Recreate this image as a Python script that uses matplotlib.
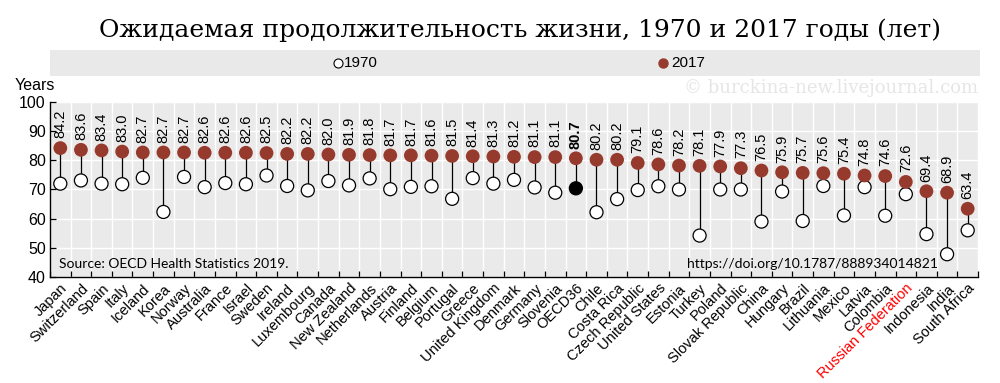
import matplotlib
matplotlib.use("Agg")
import matplotlib.pyplot as plt
from matplotlib.patches import Rectangle
import numpy as np

countries = [
    "Japan", "Switzerland", "Spain", "Italy", "Iceland", "Korea", "Norway",
    "Australia", "France", "Israel", "Sweden", "Ireland", "Luxembourg",
    "Canada", "New Zealand", "Netherlands", "Austria", "Finland", "Belgium",
    "Portugal", "Greece", "United Kingdom", "Denmark", "Germany", "Slovenia",
    "OECD36", "Chile", "Costa Rica", "Czech Republic", "United States",
    "Estonia", "Turkey", "Poland", "Slovak Republic", "China", "Hungary",
    "Brazil", "Lithuania", "Mexico", "Latvia", "Colombia",
    "Russian Federation", "Indonesia", "India", "South Africa",
]
life_2017 = [
    84.2, 83.6, 83.4, 83.0, 82.7, 82.7, 82.7, 82.6, 82.6, 82.6, 82.5, 82.2,
    82.2, 82.0, 81.9, 81.8, 81.7, 81.7, 81.6, 81.5, 81.4, 81.3, 81.2, 81.1,
    81.1, 80.7, 80.2, 80.2, 79.1, 78.6, 78.2, 78.1, 77.9, 77.3, 76.5, 75.9,
    75.7, 75.6, 75.4, 74.8, 74.6, 72.6, 69.4, 68.9, 63.4,
]
life_1970 = [
    72.0, 73.1, 72.0, 71.8, 74.0, 62.3, 74.3, 70.8, 72.2, 71.8, 74.8, 71.2,
    69.7, 72.9, 71.4, 73.8, 70.1, 70.9, 71.1, 66.8, 73.9, 72.0, 73.3, 70.7,
    68.9, 70.4, 62.2, 66.7, 69.8, 71.1, 70.0, 54.2, 70.0, 70.0, 59.0, 69.3,
    59.2, 71.2, 61.1, 70.8, 61.0, 68.4, 54.7, 47.8, 56.0,
]

red = "#963A2D"
sans = ["Liberation Sans Narrow", "Liberation Sans", "DejaVu Sans"]
plt.rcParams["font.family"] = sans

fig = plt.figure(figsize=(10, 3.83), dpi=100)
ax = fig.add_axes([0.05, 0.2768, 0.928, 0.4569])
ax.set_facecolor("#EAEAEA")

x = np.arange(len(countries))
for xi, a, b in zip(x, life_1970, life_2017):
    ax.plot([xi, xi], [a, b], color="black", lw=0.9, zorder=2)

oecd = countries.index("OECD36")
face70 = ["black" if i == oecd else "white" for i in x]
ax.scatter(x, life_1970, s=88, facecolors=face70, edgecolors="black",
           linewidths=0.9, zorder=3)
ax.scatter(x, life_2017, s=98, color=red, edgecolors="none", zorder=4)

for xi, v in zip(x, life_2017):
    ax.annotate(f"{v:.1f}", (xi, v), xytext=(0, 7), textcoords="offset points",
                rotation=90, ha="center", va="bottom", fontsize=10.5,
                fontweight="bold" if xi == oecd else "normal", zorder=5)

ax.set_xlim(-0.5, len(countries) - 0.5)
ax.set_ylim(40, 100)
ax.set_yticks(range(40, 101, 10))
ax.set_xticks(x)
ax.set_xticklabels(countries, rotation=45, ha="right", rotation_mode="anchor",
                   fontsize=10.5)
ax.get_xticklabels()[countries.index("Russian Federation")].set_color("red")
ax.set_xticks(np.arange(-0.5, len(countries), 1), minor=True)
ax.tick_params(axis="x", which="major", length=0, pad=3)
ax.tick_params(axis="x", which="minor", direction="in", length=4, width=0.9)
ax.tick_params(axis="y", direction="in", length=4, width=0.9, labelsize=11.5, pad=3)
ax.grid(axis="y", color="white", lw=1)
ax.grid(axis="x", which="minor", color="white", lw=1)
ax.set_axisbelow(True)
for s in ["top", "right"]:
    ax.spines[s].set_visible(False)
ax.spines["left"].set_linewidth(1)
ax.spines["bottom"].set_linewidth(1)

ax.text(0.01, 0.075, "Source: OECD Health Statistics 2019.", transform=ax.transAxes,
        fontsize=10, family="Lato", va="center", ha="left")
ax.text(0.686, 0.075, "https://doi.org/10.1787/888934014821", transform=ax.transAxes,
        fontsize=10, family="Lato", va="center", ha="left")

fig.text(0.015, 0.778, "Years", fontsize=11.5, va="center", ha="left")

fig.text(0.52, 0.92, "Ожидаемая продолжительность жизни, 1970 и 2017 годы (лет)",
         family="DejaVu Serif", fontsize=18, ha="center", va="center")

fig.patches.append(Rectangle((0.05, 0.8023), 0.93, 0.0672, transform=fig.transFigure,
                             facecolor="#E9E9E9", edgecolor="none", zorder=0))
fig.lines.append(plt.Line2D([0.338], [0.836], transform=fig.transFigure, marker="o",
                            markersize=6.5, markerfacecolor="white",
                            markeredgecolor="black", markeredgewidth=0.8))
fig.text(0.344, 0.836, "1970", fontsize=11, va="center", ha="left")
fig.lines.append(plt.Line2D([0.663], [0.836], transform=fig.transFigure, marker="o",
                            markersize=6.5, markerfacecolor=red, markeredgecolor=red))
fig.text(0.671, 0.836, "2017", fontsize=11, va="center", ha="left")

fig.text(0.978, 0.77, "© burckina-new.livejournal.com", family="DejaVu Serif",
         fontsize=13, color="#E6E6E6", ha="right", va="center")

fig.savefig("out.png", dpi=100)
